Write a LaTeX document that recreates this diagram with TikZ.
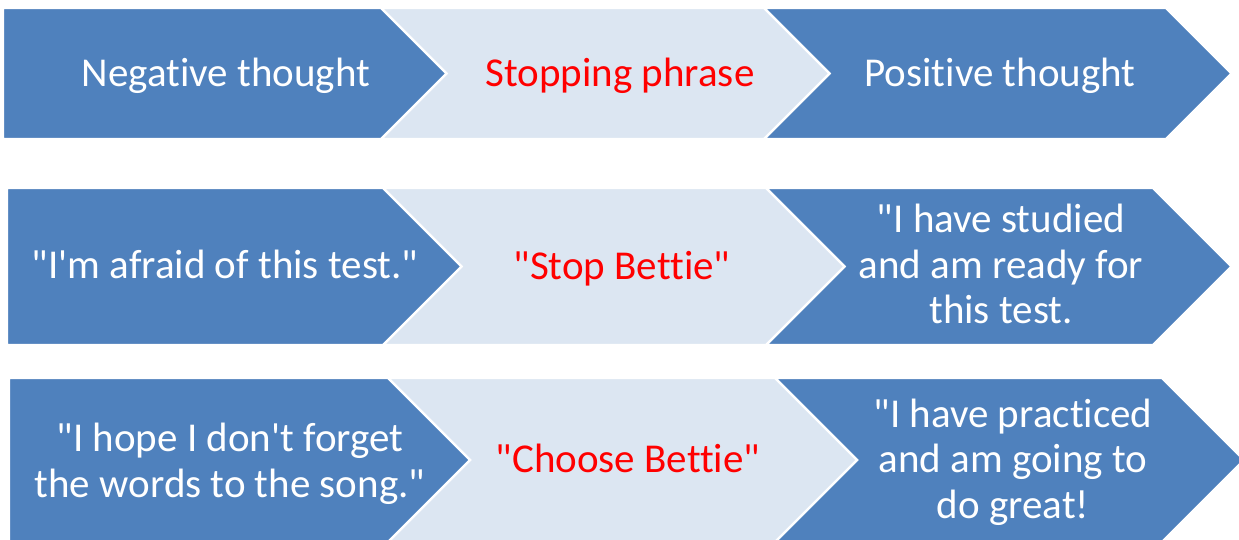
\documentclass[tikz,border=0pt]{standalone}
\usepackage{fontspec}
\newfontfamily\carl{Carlito}[Ligatures={NoCommon,NoRare,NoContextual}]
\definecolor{chevblue}{RGB}{79,129,189}
\definecolor{chevlight}{RGB}{220,230,242}
\definecolor{stopred}{RGB}{255,0,0}
\tikzset{
  darkchev/.style={fill=chevblue, draw=white, line width=2.2pt, line join=miter},
  lightchev/.style={fill=chevlight, draw=white, line width=2.2pt, line join=miter},
  whitetxt/.style={text=white, inner sep=0pt, font=\carl\fontsize{41}{45.5}\selectfont, align=center},
  redtxt/.style={text=stopred, inner sep=0pt, font=\carl\fontsize{41}{45.5}\selectfont, align=center},
}
\begin{document}
\begin{tikzpicture}[x=1pt,y=-1pt]
\useasboundingbox (0,0) rectangle (1239,540);
\clip (0,0) rectangle (1239,540);
% ---- row 1 ----
\path[darkchev] (764,8) -- (1166,8) -- (1231.5,73.5) -- (1166,139) -- (764,139) -- (829.5,73.5) -- cycle;
\path[lightchev] (381,8) -- (764,8) -- (829.5,73.5) -- (764,139) -- (381,139) -- (446.5,73.5) -- cycle;
\path[darkchev] (3,8) -- (381,8) -- (446.5,73.5) -- (381,139) -- (3,139) -- cycle;
% ---- row 2 ----
\path[darkchev] (766,188) -- (1153,188) -- (1231.5,266.5) -- (1153,345) -- (766,345) -- (844.5,266.5) -- cycle;
\path[lightchev] (383,188) -- (766,188) -- (844.5,266.5) -- (766,345) -- (383,345) -- (461.5,266.5) -- cycle;
\path[darkchev] (7,188) -- (383,188) -- (461.5,266.5) -- (383,345) -- (7,345) -- cycle;
% ---- row 3 ----
\path[darkchev] (775,378) -- (1162,378) -- (1244,460) -- (1162,542) -- (775,542) -- (857,460) -- cycle;
\path[lightchev] (388,378) -- (775,378) -- (857,460) -- (775,542) -- (388,542) -- (470,460) -- cycle;
\path[darkchev] (9,378) -- (388,378) -- (470,460) -- (388,542) -- (9,542) -- cycle;
% ---- texts ----
\node[whitetxt, anchor=base] (neg) at (226,86.5) {Negative thought};
\node[redtxt, anchor=base] (stop) at (620,86.5) {Stopping phrase};
\node[whitetxt, anchor=base] (pos) at (1000,86.5) {Positive thought};
\node[whitetxt, anchor=base] (afraid) at (225,278) {"I'm afraid of this test."};
\node[redtxt, anchor=base] (stopb) at (622,279) {"Stop Bettie"};
\node[whitetxt] (studied) at (1001,264) {"I have studied\\and am ready for\\this test.};
\node[whitetxt] (hope) at (230,464) {"I hope I don't forget\\the words to the song."};
\node[redtxt, anchor=base] (choose) at (628,472) {"Choose Bettie"};
\node[whitetxt] (practiced) at (1013,462) {"I have practiced\\and am going to\\do great!};
\end{tikzpicture}
\end{document}
